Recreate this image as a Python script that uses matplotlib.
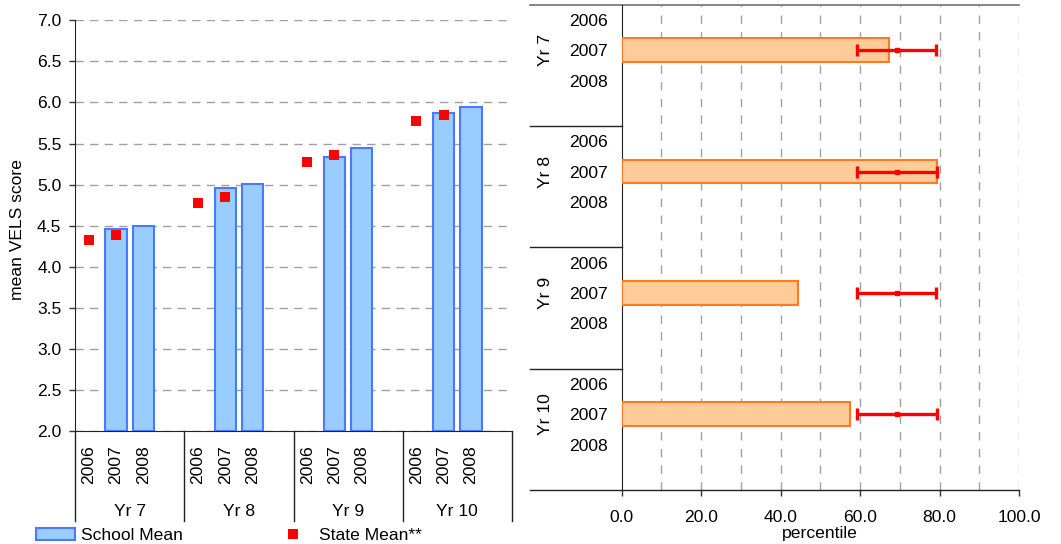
import numpy as np
import matplotlib.pyplot as plt
from matplotlib.patches import Patch
from matplotlib.lines import Line2D
import matplotlib.transforms as mtransforms

plt.rcParams['font.family'] = ['Liberation Sans', 'DejaVu Sans']

years = ['2006', '2007', '2008']
groups = ['Yr 7', 'Yr 8', 'Yr 9', 'Yr 10']
nan = np.nan
school_mean = np.array([[nan, 4.46, 4.50],
                        [nan, 4.96, 5.01],
                        [nan, 5.34, 5.44],
                        [nan, 5.87, 5.945]])
state_mean = np.array([[4.33, 4.39, nan],
                       [4.78, 4.85, nan],
                       [5.28, 5.36, nan],
                       [5.78, 5.85, nan]])
percentile = np.array([[nan, 67.2, nan],
                       [nan, 79.3, nan],
                       [nan, 44.3, nan],
                       [nan, 57.4, nan]])
band_mid = np.array([[nan, 69.2, nan],
                     [nan, 69.2, nan],
                     [nan, 69.2, nan],
                     [nan, 69.2, nan]])
band_half = np.array([[nan, 10.0, nan],
                      [nan, 10.1, nan],
                      [nan, 10.0, nan],
                      [nan, 10.1, nan]])

FS = 12.6
W, H = 1061, 544
fig = plt.figure(figsize=(W / 100, H / 100), dpi=100)

# slot positions: 4 slots per group, last slot empty
pos = np.array([[g * 4 + y + 0.5 for y in range(3)] for g in range(4)])

# ---------------- left chart ----------------
ax = fig.add_axes([75 / W, 1 - 431 / H, 437 / W, 410.7 / H])
m = ~np.isnan(school_mean)
ax.bar(pos[m], school_mean[m] - 2.0, bottom=2.0, width=0.78,
       color='#99CCFF', edgecolor='#4A78FF', linewidth=1.5, zorder=3)
m = ~np.isnan(state_mean)
ax.plot(pos[m], state_mean[m], 's', color='#FF0000', markersize=7, zorder=4,
        markeredgewidth=0)
ax.set_xlim(0, 16)
ax.set_ylim(2.0, 7.0)
ax.set_yticks(np.arange(2.0, 7.01, 0.5))
ax.set_yticklabels(['%.1f' % v for v in np.arange(2.0, 7.01, 0.5)], fontsize=FS)
ax.tick_params(axis='y', length=4.3, width=1, pad=5.5, color='#333333')
ax.yaxis.grid(True, linestyle=(0, (6, 4.5)), color='#A0A0A0', linewidth=1)
ax.set_axisbelow(True)
ax.set_xticks(pos.ravel())
ax.set_xticklabels(years * 4, rotation=90, fontsize=FS)
ax.tick_params(axis='x', length=0, pad=10)
for s in ['top', 'right']:
    ax.spines[s].set_visible(False)
ax.spines['left'].set_color('#222222')
ax.spines['bottom'].set_color('#222222')
ax.text(-(75 - 17) / 437, 0.49, 'mean VELS score', transform=ax.transAxes,
        rotation=90, ha='center', va='center', fontsize=FS)
trans = mtransforms.blended_transform_factory(ax.transData, ax.transAxes)
for g in range(5):
    ax.plot([g * 4, g * 4], [0, -90 / 410.7], color='#222222', lw=1,
            transform=trans, clip_on=False)
for g, name in enumerate(groups):
    ax.text(g * 4 + 2, -80 / 410.7, name, transform=trans, ha='center',
            va='center', fontsize=FS)

handles = [Patch(facecolor='#99CCFF', edgecolor='#4A78FF', linewidth=1.5),
           Line2D([], [], marker='s', color='#FF0000', linestyle='none',
                  markersize=7, markeredgewidth=0)]
fig.legend(handles, ['School Mean', 'State Mean**'], loc='upper left',
           bbox_to_anchor=(36 / W, 1 - 527.5 / H), ncol=2, frameon=False,
           fontsize=FS, borderpad=0, borderaxespad=0, handlelength=2.23,
           handletextpad=0.34, columnspacing=5.2)

# ---------------- right chart ----------------
ax2 = fig.add_axes([621.7 / W, 1 - 490 / H, 397.3 / W, 485.3 / H])
for xv in np.arange(10, 101, 10):
    ax2.axvline(xv, linestyle=(0, (6, 6)), color='#A0A0A0', linewidth=1,
                zorder=1)
m = ~np.isnan(percentile)
ax2.barh(pos[m], percentile[m], height=0.78, color='#FFCC99',
         edgecolor='#FF7A22', linewidth=1.5, zorder=3)
m = ~np.isnan(band_mid)
ax2.errorbar(band_mid[m], pos[m], xerr=band_half[m], fmt='s', color='#FF0000',
             markersize=2.5, elinewidth=2.4, capsize=4.3, capthick=2.4,
             zorder=4)
ax2.set_xlim(0, 100)
ax2.set_ylim(16, 0)
ax2.set_xticks(np.arange(0, 101, 20))
ax2.set_xticklabels(['%.1f' % v for v in np.arange(0, 101, 20)], fontsize=FS)
ax2.tick_params(axis='x', length=4.3, width=1, pad=10, color='#333333')
ax2.set_yticks(pos.ravel())
ax2.set_yticklabels(years * 4, fontsize=FS)
ax2.tick_params(axis='y', length=0, pad=10)
ax2.spines['right'].set_visible(False)
ax2.spines['top'].set_visible(False)
ax2.spines['left'].set_color('#222222')
ax2.spines['bottom'].set_visible(False)
ax2.set_xlabel('percentile', fontsize=FS, labelpad=1)
trans2 = mtransforms.blended_transform_factory(ax2.transAxes, ax2.transData)
x0 = -(621.7 - 530) / 397.3
ax2.plot([x0, 1], [0, 0], color='#707070', lw=1.2, transform=trans2, clip_on=False)
ax2.plot([x0, 1], [16, 16], color='#222222', lw=1, transform=trans2, clip_on=False)
for g in range(1, 4):
    ax2.plot([x0, 0], [g * 4, g * 4], color='#222222', lw=1, transform=trans2,
             clip_on=False)
for g, name in enumerate(groups):
    ax2.text(-(621.7 - 545) / 397.3, g * 4 + 1.5, name, transform=trans2,
             rotation=90, ha='center', va='center', fontsize=FS)

fig.savefig('out.png', dpi=100)
